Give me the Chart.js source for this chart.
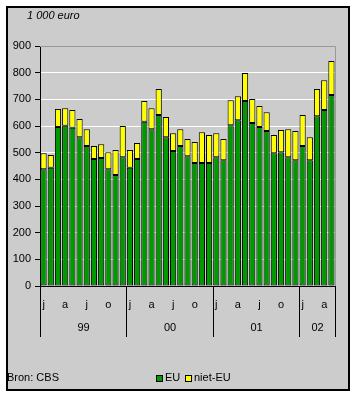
<!DOCTYPE html>
<html>
<head>
<meta charset="utf-8">
<script src="https://cdn.jsdelivr.net/npm/chart.js@4/dist/chart.umd.min.js"></script>
<style>
html,body{margin:0;padding:0;background:#fff;}
#wrap{width:356px;height:396px;position:relative;}
</style>
</head>
<body>
<div id="wrap"><canvas id="c" width="356" height="396"></canvas></div>
<script>
// Months Jan 1999 .. May 2002
const months = ['j','f','m','a','m','j','j','a','s','o','n','d'];
const years = ['99','00','01','02'];
const categories = [];
years.forEach(y => months.forEach((m, i) => { if (categories.length < 41) categories.push(m + ' ' + y); }));

const totalValues = [498,491,664,667,660,626,588,525,532,502,510,600,
                     510,536,694,667,739,634,573,588,551,540,577,566,
                     573,551,697,712,799,701,675,652,566,585,588,581,
                     641,558,739,772,844];
const euValues = [438,443,596,601,593,558,525,476,480,438,416,483,
                  443,476,616,588,641,558,506,525,487,461,461,461,
                  483,472,603,622,694,611,596,581,498,502,483,472,
                  525,472,637,660,716];
const nietEuValues = totalValues.map((t, i) => t - euValues[i]);
const yTicks = [0,100,200,300,400,500,600,700,800,900];
const monthTickLabels = {0:'j',3:'a',6:'j',9:'o'};

const FONT = '"Liberation Sans", Arial, sans-serif';

const decor = {
  id: 'decor',
  beforeDraw(chart) {
    const ctx = chart.ctx;
    ctx.save();
    ctx.fillStyle = '#ffffff';
    ctx.fillRect(0, 0, 356, 396);
    ctx.fillStyle = '#cccccc';
    ctx.fillRect(6, 6, 343, 384);
    ctx.strokeStyle = '#000';
    ctx.lineWidth = 2;
    ctx.strokeRect(7, 7, 342, 383);
    ctx.restore();
  },
  afterDraw(chart) {
    const ctx = chart.ctx;
    const x = chart.scales.x, ya = chart.scales.y;
    const ca = chart.chartArea;
    ctx.save();
    // gray frame top and right
    ctx.strokeStyle = '#999999';
    ctx.lineWidth = 1;
    ctx.beginPath();
    ctx.moveTo(ca.left, ca.top + 0.5);
    ctx.lineTo(ca.right + 0.5, ca.top + 0.5);
    ctx.lineTo(ca.right + 0.5, ca.bottom);
    ctx.stroke();
    // unit label
    ctx.fillStyle = '#000';
    ctx.font = 'italic 11px ' + FONT;
    ctx.textBaseline = 'middle';
    ctx.textAlign = 'left';
    ctx.fillText('1 000 euro', 27, 16);
    // year separators and labels
    const half = (x.getPixelForValue(1) - x.getPixelForValue(0)) / 2;
    const bounds = [0, 12, 24, 36, 41];
    ctx.strokeStyle = '#000';
    ctx.lineWidth = 1;
    const sepX = [];
    bounds.forEach(b => {
      const px = Math.round(x.getPixelForValue(b) - half) + 0.5;
      sepX.push(px);
      ctx.beginPath();
      ctx.moveTo(px, ca.bottom);
      ctx.lineTo(px, 337);
      ctx.stroke();
    });
    ctx.font = '11px ' + FONT;
    ctx.textAlign = 'center';
    years.forEach((y, i) => {
      ctx.fillText(y, (sepX[i] + sepX[i + 1]) / 2, 328);
    });
    // source
    ctx.textAlign = 'left';
    ctx.fillText('Bron: CBS', 7, 378);
    // legend
    const items = [[chart.data.datasets[0], 156], [chart.data.datasets[1], 185]];
    items.forEach(([ds, lx]) => {
      ctx.fillStyle = ds.backgroundColor;
      ctx.fillRect(lx, 375, 6, 6);
      ctx.strokeStyle = '#000';
      ctx.strokeRect(lx + 0.5, 375.5, 6, 6);
      ctx.fillStyle = '#000';
      ctx.fillText(ds.label, lx + 9, 378);
    });
    ctx.restore();
  }
};

new Chart(document.getElementById('c'), {
  type: 'bar',
  data: {
    labels: categories,
    datasets: [
      { label: 'EU', data: euValues, backgroundColor: '#009900', borderColor: '#000', borderWidth: 1, borderSkipped: false },
      { label: 'niet-EU', data: nietEuValues, backgroundColor: '#ffff00', borderColor: '#000', borderWidth: 1, borderSkipped: false }
    ]
  },
  options: {
    responsive: false,
    animation: false,
    devicePixelRatio: 1,
    layout: { padding: { left: 6, top: 46, right: 21, bottom: 0 } },
    plugins: { legend: { display: false }, tooltip: { enabled: false } },
    datasets: { bar: { barPercentage: 0.86, categoryPercentage: 1 } },
    scales: {
      x: {
        stacked: true,
        afterFit(s) { s.height = 110; },
        grid: { display: false, drawTicks: false },
        border: { display: true, color: '#000', width: 1 },
        ticks: {
          autoSkip: false, maxRotation: 0, minRotation: 0, padding: 12,
          color: '#000', font: { family: FONT, size: 11 },
          callback(v, i) { return monthTickLabels[i % 12] || ''; }
        }
      },
      y: {
        stacked: true,
        min: 0, max: 900,
        afterFit(s) { s.width = 34; },
        afterBuildTicks(s) { s.ticks = yTicks.map(v => ({ value: v })); },
        grid: {
          color: c => (c.tick && c.tick.value === 900) ? '#999999' : (c.tick && c.tick.value === 0 ? 'rgba(0,0,0,0)' : '#ffffff'),
          tickColor: '#000', tickLength: 5, drawTicks: true, lineWidth: 1
        },
        border: { display: true, color: '#000', width: 1 },
        ticks: { color: '#000', padding: 4, font: { family: FONT, size: 11 } }
      }
    }
  },
  plugins: [decor]
});
</script>
</body>
</html>
